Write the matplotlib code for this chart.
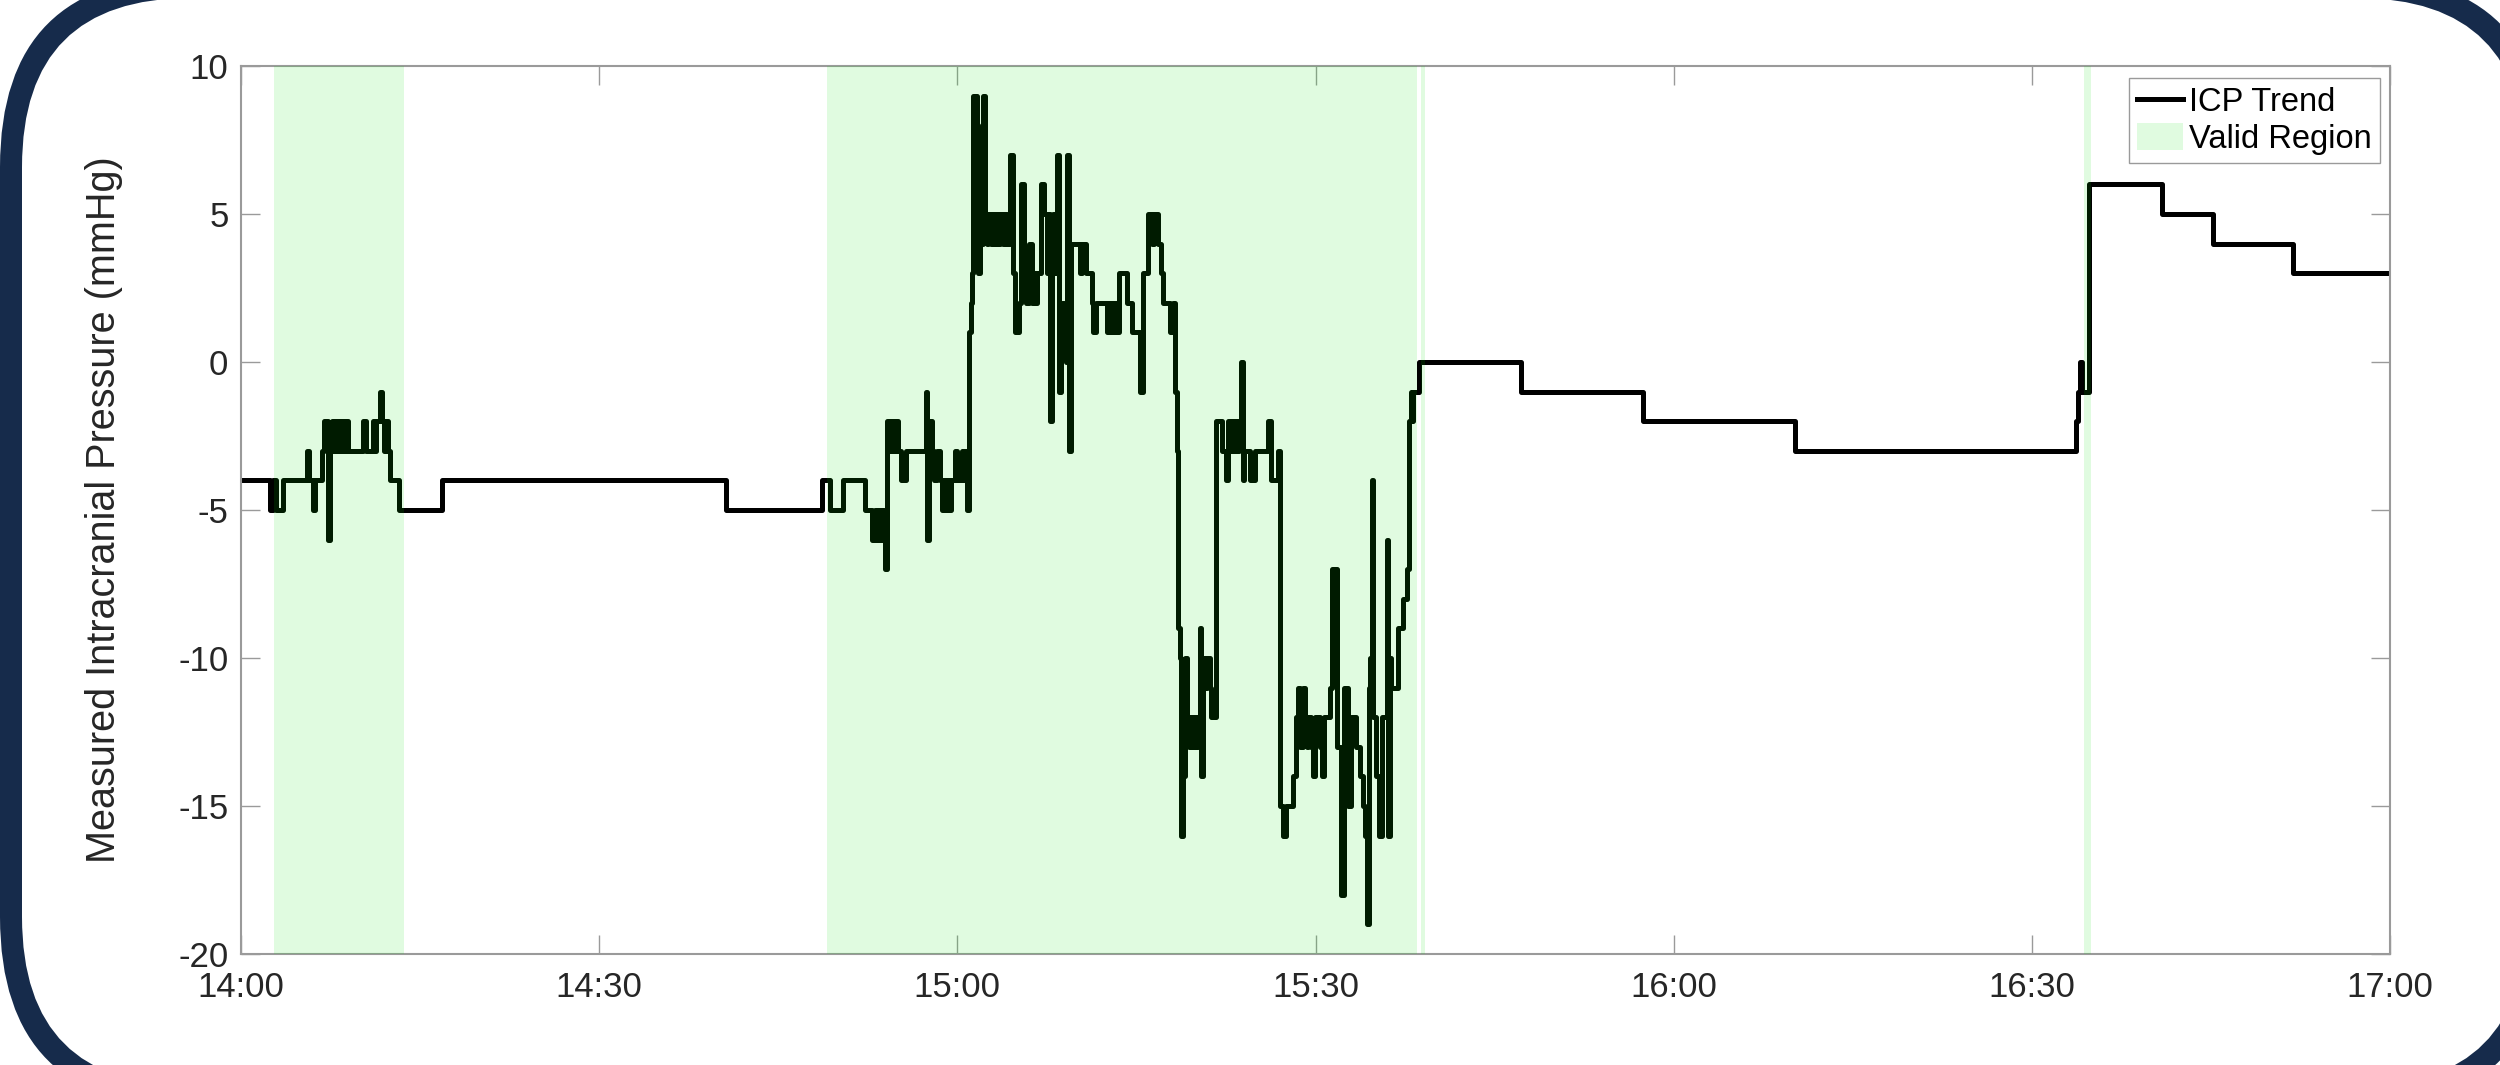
import matplotlib
matplotlib.use('Agg')
import matplotlib.pyplot as plt
from matplotlib.patches import FancyBboxPatch

plt.rcParams['font.family'] = ['Liberation Sans', 'DejaVu Sans']

# ---------------- data (minutes after 14:00, mmHg) ----------------
icp_minutes = [
    0.0, 2.43, 2.65, 2.93, 3.55, 5.5, 5.72, 6.0, 6.2, 6.76, 6.95, 7.26, 7.46,
    7.6, 7.75, 7.9, 8.05, 8.2, 8.35, 8.5, 8.65, 8.8, 8.95, 9.13, 10.25, 10.45,
    11.08, 11.2, 11.3, 11.64, 11.84, 12.0, 12.15, 12.3, 12.48, 13.26, 16.81,
    40.6, 48.64, 49.33, 50.45, 52.27, 52.82, 53.1, 53.25, 53.4, 53.55, 53.7,
    53.82, 53.94, 54.08, 54.22, 54.36, 54.5, 54.64, 54.78, 54.92, 55.05, 55.28,
    55.7, 57.35, 57.5, 57.65, 57.85, 58.05, 58.27, 58.55, 58.7, 58.85, 59.0,
    59.15, 59.3, 59.5, 59.8, 59.95, 60.35, 60.5, 60.6, 60.84, 60.98, 61.12,
    61.23, 61.34, 61.62, 61.76, 61.9, 62.01, 62.12, 62.32, 62.46, 62.6, 62.79,
    62.96, 63.15, 63.29, 63.49, 63.57, 63.8, 63.96, 64.19, 64.41, 64.69, 64.83,
    65.19, 65.33, 65.58, 65.75, 66.03, 66.23, 66.37, 66.52, 66.7, 66.98, 67.26,
    67.48, 67.62, 67.76, 67.93, 68.04, 68.18, 68.32, 68.49, 68.65, 68.77, 68.96,
    69.1, 69.21, 69.38, 69.52, 70.27, 70.41, 70.78, 71.25, 71.34, 71.59, 72.51,
    72.65, 72.8, 72.95, 73.1, 73.25, 73.38, 73.51, 74.18, 74.6, 75.3, 75.58,
    76.0, 76.28, 76.47, 76.84, 77.03, 77.25, 77.81, 78.04, 78.26, 78.37, 78.46,
    78.5, 78.62, 78.7, 78.87, 79.0, 79.1, 79.27, 79.4, 79.55, 79.7, 79.85, 80.0,
    80.15, 80.3, 80.4, 80.55, 80.75, 80.95, 81.15, 81.25, 81.65, 82.2, 82.5,
    82.7, 82.85, 83.0, 83.15, 83.3, 83.45, 83.6, 83.75, 83.93, 84.05, 84.5,
    84.93, 86.0, 86.3, 86.85, 87.05, 87.3, 87.55, 88.1, 88.4, 88.55, 88.7,
    88.95, 89.1, 89.25, 89.4, 89.65, 89.8, 89.95, 90.4, 90.55, 90.75, 91.2,
    91.4, 91.8, 92.15, 92.35, 92.7, 93.0, 93.4, 93.7, 93.95, 94.15, 94.3, 94.45,
    94.6, 94.7, 94.85, 95.1, 95.35, 95.55, 95.95, 96.05, 96.2, 96.35, 96.9,
    97.3, 97.7, 97.85, 98.0, 98.1, 98.2, 98.7, 107.2, 117.4, 130.2, 153.7,
    153.9, 154.0, 154.2, 154.75, 160.9, 165.2, 171.9, 180.0,
]
icp_values = [
    -4, -5, -4, -5, -4, -3, -4, -5, -4, -3, -2, -6, -3,
    -2, -3, -2, -3, -2, -3, -2, -3, -2, -3, -3, -2, -3,
    -2, -3, -2, -1, -2, -3, -2, -3, -4, -5, -4,
    -5, -4, -5, -4, -5, -6, -5, -6, -5, -6, -5,
    -6, -7, -2, -3, -2, -3, -2, -3, -2, -3, -4,
    -3, -1, -6, -2, -3, -4, -3, -4, -5, -4, -5,
    -4, -5, -4, -3, -4, -3, -4, -3, -5, 1, 2,
    3, 9, 8, 3, 5, 4, 9, 5, 4, 5, 4,
    5, 4, 5, 4, 5, 4, 5, 4, 7, 3, 1,
    2, 6, 3, 2, 4, 2, 3, 2, 3, 6, 5,
    3, 5, -2, 3, 5, 3, 7, -1, 1, 2, 1,
    0, 7, -3, 4, 3, 4, 3, 2, 1, 2, 1,
    2, 1, 2, 1, 2, 1, 3, 2, 1, -1, 3,
    5, 4, 5, 4, 3, 2, 1, 2, -1, -3, -5,
    -9, -10, -16, -12, -14, -10, -12, -13, -12, -13, -12, -13,
    -12, -9, -14, -10, -11, -10, -11, -12, -2, -3, -4,
    -2, -3, -2, -3, -2, -3, -2, 0, -4, -3, -4,
    -3, -2, -4, -3, -15, -16, -15, -14, -12, -11, -13,
    -11, -12, -13, -12, -13, -14, -12, -13, -14, -12, -11,
    -7, -13, -18, -11, -15, -12, -13, -14, -15, -16, -19, -11,
    -10, -4, -12, -14, -16, -12, -6, -16, -10, -11, -9,
    -8, -7, -2, -1, -2, -1, 0, -1, -2, -3, -2,
    -1, 0, -1, 6, 5, 4, 3, 3,
]
valid_start = [2.8, 49.1, 98.85, 154.35]
valid_end = [13.65, 98.5, 99.2, 154.95]

x_ticks = [0, 30, 60, 90, 120, 150, 180]
x_tick_labels = ['14:00', '14:30', '15:00', '15:30', '16:00', '16:30', '17:00']
y_ticks = [-20, -15, -10, -5, 0, 5, 10]

# ---------------- figure ----------------
W, H = 2500, 1065
fig = plt.figure(figsize=(W / 100, H / 100), dpi=100)
fig.patch.set_facecolor('white')

# rounded dark frame (pixel coordinates, partly outside the canvas)
bg = fig.add_axes([0, 0, 1, 1], zorder=0)
bg.set_xlim(0, W)
bg.set_ylim(H, 0)
bg.axis('off')
navy = '#162B4B'
bw = 22
ix0, iy0, ix1, iy1, R = 22, -2, 2526, 1086, 169
bg.add_patch(FancyBboxPatch((ix0 - bw, iy0 - bw), (ix1 - ix0) + 2 * bw, (iy1 - iy0) + 2 * bw,
                            boxstyle='round,pad=0,rounding_size=%d' % (R + bw),
                            fc=navy, ec='none'))
bg.add_patch(FancyBboxPatch((ix0, iy0), ix1 - ix0, iy1 - iy0,
                            boxstyle='round,pad=0,rounding_size=%d' % R,
                            fc='white', ec='none'))

# main axes: 241..2390 px horizontally, 66..954 px vertically
ax = fig.add_axes([241 / W, (H - 954) / H, 2149 / W, 888 / H], zorder=1)
ax.set_facecolor('white')

ax.step(icp_minutes, icp_values, where='post', color='black', lw=3.6,
        label='ICP Trend', zorder=2)
for i, (s, e) in enumerate(zip(valid_start, valid_end)):
    ax.axvspan(s, e, facecolor=(0.0, 0.9, 0.0), alpha=0.12, lw=0,
               label='Valid Region' if i == 0 else None, zorder=3)

ax.set_xlim(0, 180)
ax.set_ylim(-20, 10)
ax.set_xticks(x_ticks)
ax.set_xticklabels(x_tick_labels)
ax.set_yticks(y_ticks)
ax.set_yticklabels([str(v) for v in y_ticks])

grey = '#9a9a9a'
for sp in ax.spines.values():
    sp.set_color(grey)
    sp.set_linewidth(1.5)
ax.tick_params(direction='in', length=14, width=1, color=grey,
               labelsize=25, labelcolor='#262626', top=True, right=True)
ax.tick_params(axis='x', pad=12)
ax.tick_params(axis='y', pad=9)

ax.set_ylabel('Measured Intracranial Pressure (mmHg)', fontsize=28.5,
              color='#262626', labelpad=40)

leg = ax.legend(loc='upper right', bbox_to_anchor=(1 - 10 / 2149, 1 - 12 / 888),
                borderaxespad=0, fontsize=23.5, frameon=True, fancybox=False,
                edgecolor=grey, framealpha=1, borderpad=0.25, handlelength=1.4,
                handletextpad=0.2, labelspacing=0.15, handleheight=0.9)
leg.get_frame().set_linewidth(1)

fig.savefig('out.png', dpi=100, facecolor='white')
